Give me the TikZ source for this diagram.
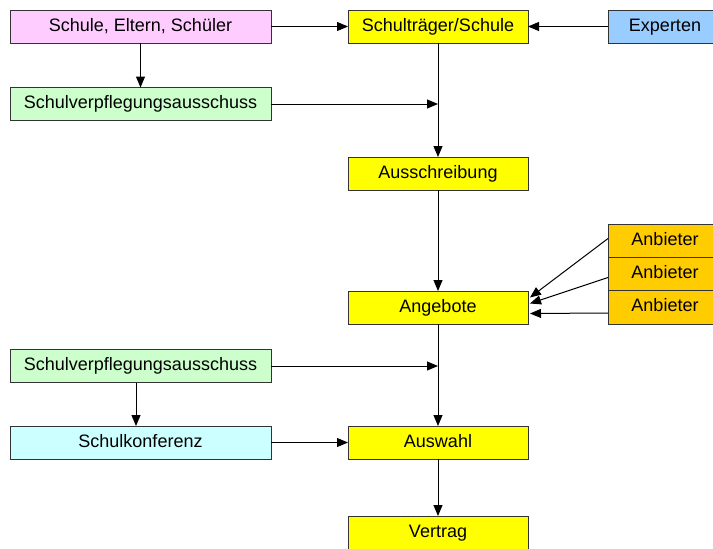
\documentclass[tikz,border=0pt]{standalone}
\usepackage{fontspec}
\setmainfont{Liberation Sans}
\usetikzlibrary{arrows.meta}
\definecolor{cpink}{HTML}{FFCCFF}
\definecolor{cyel}{HTML}{FFFF00}
\definecolor{cblue}{HTML}{99CCFF}
\definecolor{cgreen}{HTML}{CCFFCC}
\definecolor{ccyan}{HTML}{CCFFFF}
\definecolor{corange}{HTML}{FFCC00}
\tikzset{
  box/.style={draw=black!80, line width=0.9pt, rectangle, inner sep=0pt, outer sep=0pt,
    minimum height=33pt, text height=13pt, text depth=4pt,
    font=\fontsize{18}{20}\selectfont},
  leftbox/.style={box, minimum width=261pt},
  midbox/.style={box, minimum width=180pt, fill=cyel},
  sidebox/.style={box, minimum width=114pt},
  arr/.style={line width=1pt, -{Triangle[length=11pt,width=9pt]}},
}
\begin{document}
\begin{tikzpicture}[x=1pt,y=-1pt]
\useasboundingbox (0,0) rectangle (713,549);
\clip (0,0) rectangle (713,549);
% left column
\node[leftbox, fill=cpink] (b1) at (140.5,26.5) {Schule, Eltern, Schüler};
\node[leftbox, fill=cgreen] (sva1) at (140.5,104) {Schulverpflegungsausschuss};
\node[leftbox, fill=cgreen] (sva2) at (140.5,366) {Schulverpflegungsausschuss};
\node[leftbox, fill=ccyan] (sk) at (140.5,442.5) {Schulkonferenz};
% middle column
\node[midbox] (st) at (438,26.5) {Schulträger/Schule};
\node[midbox] (aus) at (438,173.5) {Ausschreibung};
\node[midbox] (ang) at (438,307.5) {Angebote};
\node[midbox] (wahl) at (438,442.5) {Auswahl};
\node[midbox] (ver) at (438,532.5) {Vertrag};
% right column
\node[sidebox, fill=cblue] (exp) at (665,26.5) {Experten};
\node[sidebox, fill=corange, minimum height=33pt] (an1) at (665,240.5) {Anbieter};
\node[sidebox, fill=corange, minimum height=33pt] (an2) at (665,273.5) {Anbieter};
\node[sidebox, fill=corange, minimum height=34pt] (an3) at (665,307) {Anbieter};
% connectors
\draw[arr] (b1.east) -- (st.west);
\draw[arr] (exp.west) -- (st.east);
\draw[arr] (b1.south) -- (sva1.north);
\draw[arr] (sva1.east) -- (sva1.east -| st.south);
\draw[arr] (st.south) -- (aus.north);
\draw[arr] (aus.south) -- (ang.north);
\draw[arr] ([yshift=2pt]an1.west) -- ([xshift=2pt,yshift=10pt]ang.east);
\draw[arr] ([yshift=-4pt]an2.west) -- ([xshift=2pt,yshift=4pt]ang.east);
\draw[arr] ([yshift=-6pt]an3.west) -- ([xshift=2pt,yshift=-6pt]ang.east);
\draw[arr] (ang.south) -- (wahl.north);
\draw[arr] (sva2.east) -- (sva2.east -| ang.south);
\draw[arr] ([xshift=-4.5pt]sva2.south) -- ([xshift=-4.5pt]sk.north);
\draw[arr] (sk.east) -- (wahl.west);
\draw[arr] (wahl.south) -- (ver.north);
\end{tikzpicture}
\end{document}
